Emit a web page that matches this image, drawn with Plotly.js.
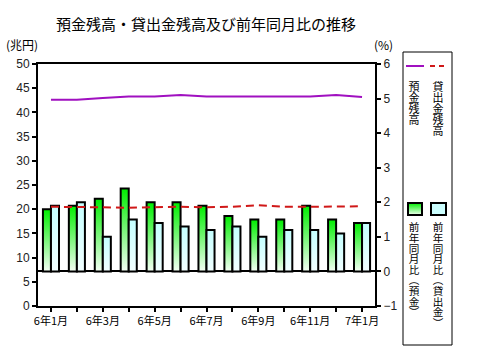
<!DOCTYPE html>
<html><head><meta charset="utf-8">
<script src="https://cdn.plot.ly/plotly-3.0.1.min.js"></script>
<style>html,body{margin:0;padding:0;background:#fff;}#chart{width:480px;height:359px;}</style>
</head><body><div id="chart"></div>
<script>
// ---- data ----
const months = ['6年1月','6年2月','6年3月','6年4月','6年5月','6年6月','6年7月','6年8月','6年9月','6年10月','6年11月','6年12月','7年1月'];
const tickLabels = ['6年1月','','6年3月','','6年5月','','6年7月','','6年9月','','6年11月','','7年1月'];
const depositBalance = [42.6,42.6,43.0,43.3,43.3,43.6,43.3,43.3,43.3,43.3,43.3,43.6,43.2];
const loanBalance = [20.5,20.5,20.4,20.3,20.4,20.5,20.4,20.5,20.8,20.5,20.5,20.6,20.6];
const depositYoY = [1.8,1.9,2.1,2.4,2.0,2.0,1.9,1.6,1.5,1.5,1.9,1.5,1.4];
const loanYoY = [1.9,2.0,1.0,1.5,1.4,1.3,1.2,1.3,1.0,1.2,1.2,1.1,1.4];
const seriesNames = ['預金残高','貸出金残高','前年同月比（預金）','前年同月比（貸出金）'];

// ---- geometry helpers (pixels -> paper) ----
const W = 480, H = 359, L = 38, R = 375, T = 64, B = 306;
const px = x => (x - L) / (R - L);
const py = y => (B - y) / (B - T);

const FONT = 'Liberation Sans, Arial, sans-serif';
const JFONT = 'Noto Sans CJK JP, sans-serif';

const traces = [
  {type:'bar', name:seriesNames[2], x:months, y:depositYoY, yaxis:'y', xaxis:'x',
   marker:{color:'#00ee00', line:{color:'#000', width:2}}, showlegend:false},
  {type:'bar', name:seriesNames[3], x:months, y:loanYoY, yaxis:'y', xaxis:'x',
   marker:{color:'#ccffff', line:{color:'#000', width:2}}, showlegend:false},
  {type:'scatter', mode:'lines', name:seriesNames[0], x:months, y:depositBalance, yaxis:'y2',
   line:{color:'#a010c0', width:2}, showlegend:false},
  {type:'scatter', mode:'lines', name:seriesNames[1], x:months, y:loanBalance, yaxis:'y2',
   line:{color:'#d01818', width:2, dash:'8px,5px'}, showlegend:false}
];

const shapes = [];
const annotations = [];

// legend box
shapes.push({type:'rect', xref:'paper', yref:'paper', x0:px(403), x1:px(452), y0:py(345), y1:py(52),
  line:{color:'#000', width:1}, fillcolor:'rgba(0,0,0,0)'});
// line samples
shapes.push({type:'line', xref:'paper', yref:'paper', x0:px(406), x1:px(424), y0:py(66), y1:py(66),
  line:{color:'#a010c0', width:2}});
shapes.push({type:'line', xref:'paper', yref:'paper', x0:px(430), x1:px(448), y0:py(66), y1:py(66),
  line:{color:'#d01818', width:2, dash:'5px,4px'}});
// swatches
shapes.push({type:'rect', xref:'paper', yref:'paper', x0:px(408), x1:px(422), y0:py(215), y1:py(203),
  line:{color:'#000', width:2}, fillcolor:'#00ee00'});
shapes.push({type:'rect', xref:'paper', yref:'paper', x0:px(431), x1:px(446), y0:py(215), y1:py(203),
  line:{color:'#000', width:2}, fillcolor:'#ccffff'});

// vertical legend text: one annotation per series, turned into vertical writing after render
const vertical = [];
function vtext(str, cx, ytop, size) {
  vertical.push({index: annotations.length, str, cx, ytop});
  annotations.push({xref:'paper', yref:'paper', x:px(cx), y:py(ytop),
    text:str, showarrow:false, xanchor:'center', yanchor:'top',
    borderpad:0, font:{family:JFONT, size:size, color:'#000'}});
}
vtext(seriesNames[0], 414, 81, 11);
vtext(seriesNames[1], 438, 81, 11);
vtext(seriesNames[2], 414, 222, 10.6);
vtext(seriesNames[3], 438, 222, 10.6);

// axis unit labels
annotations.push({xref:'paper', yref:'paper', x:px(4), y:py(45), text:'(兆円)', showarrow:false,
  xanchor:'left', yanchor:'middle', font:{family:JFONT, size:12, color:'#000'}});
annotations.push({xref:'paper', yref:'paper', x:px(383), y:py(45), text:'(%)', showarrow:false,
  xanchor:'center', yanchor:'middle', font:{family:JFONT, size:12, color:'#000'}});

const layout = {
  width: W, height: H,
  margin:{l:L, r:W-R, t:T, b:H-B, pad:0},
  paper_bgcolor:'#fff', plot_bgcolor:'#fff',
  title:{text:'預金残高・貸出金残高及び前年同月比の推移', font:{family:JFONT, size:15, color:'#000'},
    x:206/W, xanchor:'center', y:1-25/H, yanchor:'middle', xref:'container', yref:'container'},
  barmode:'group', bargap:0.38, bargroupgap:0,
  showlegend:false,
  xaxis:{type:'category', tickmode:'array', tickvals:months, ticktext:tickLabels,
    ticks:'outside', ticklen:4, tickwidth:2, tickcolor:'#000',
    showline:true, linecolor:'#000', linewidth:2, mirror:true, showgrid:false, zeroline:false,
    tickfont:{family:JFONT, size:11, color:'#000'}, automargin:false, fixedrange:true},
  yaxis:{range:[-1,6], dtick:1, side:'right', ticks:'outside', ticklen:4, tickwidth:2, tickcolor:'#000',
    showline:true, linecolor:'#000', linewidth:2, showgrid:false,
    zeroline:true, zerolinecolor:'#000', zerolinewidth:2,
    tickfont:{family:FONT, size:12, color:'#222'}, automargin:false},
  yaxis2:{range:[0,50], dtick:5, side:'left', overlaying:'y', ticks:'outside', ticklen:4, tickwidth:2, tickcolor:'#000',
    showline:true, linecolor:'#000', linewidth:2, showgrid:false, zeroline:false,
    tickfont:{family:FONT, size:12, color:'#222'}, automargin:false},
  shapes: shapes,
  annotations: annotations
};

Plotly.newPlot('chart', traces, layout, {staticPlot:true, displayModeBar:false}).then(gd => {
  const svg = gd.querySelector('svg.main-svg');
  const NS = 'http://www.w3.org/2000/svg';
  let defs = svg.querySelector('defs');
  if (!defs) { defs = document.createElementNS(NS, 'defs'); svg.insertBefore(defs, svg.firstChild); }
  function grad(id, top, bottom) {
    const g = document.createElementNS(NS, 'linearGradient');
    g.setAttribute('id', id); g.setAttribute('x1','0'); g.setAttribute('y1','0'); g.setAttribute('x2','0'); g.setAttribute('y2','1');
    [[0, top], [1, bottom]].forEach(([o, c]) => {
      const s = document.createElementNS(NS, 'stop');
      s.setAttribute('offset', o); s.setAttribute('stop-color', c); g.appendChild(s);
    });
    defs.appendChild(g);
  }
  grad('gradGreen', '#00ee00', '#f4fff4');
  grad('gradCyan', '#c4ffff', '#f2ffff');
  const barTraces = gd.querySelectorAll('.barlayer .trace');
  if (barTraces[0]) barTraces[0].querySelectorAll('path').forEach(p => p.style.fill = 'url(#gradGreen)');
  if (barTraces[1]) barTraces[1].querySelectorAll('path').forEach(p => p.style.fill = 'url(#gradCyan)');
  gd.querySelectorAll('.shapelayer path').forEach(p => {
    if (p.style.fill === 'rgb(0, 238, 0)') p.style.fill = 'url(#gradGreen)';
  });

  // vertical (tategaki) legend labels
  const rootCTM = svg.getScreenCTM();
  vertical.forEach(v => {
    const g = gd.querySelector('.annotation[data-index="' + v.index + '"]');
    if (!g) return;
    const t = g.querySelector('text.annotation-text');
    if (!t) return;
    const bg = g.querySelector('rect.bg');
    if (bg) { bg.setAttribute('width', 0); bg.setAttribute('height', 0); }
    t.textContent = v.str;
    t.style.writingMode = 'vertical-rl';
    t.setAttribute('writing-mode', 'vertical-rl');
    t.setAttribute('text-anchor', 'start');
    const pt = svg.createSVGPoint();
    pt.x = v.cx + rootCTM.e; pt.y = v.ytop + rootCTM.f;
    const local = pt.matrixTransform(t.getScreenCTM().inverse());
    t.setAttribute('x', local.x);
    t.setAttribute('y', local.y);
  });
});
</script>
</body></html>
